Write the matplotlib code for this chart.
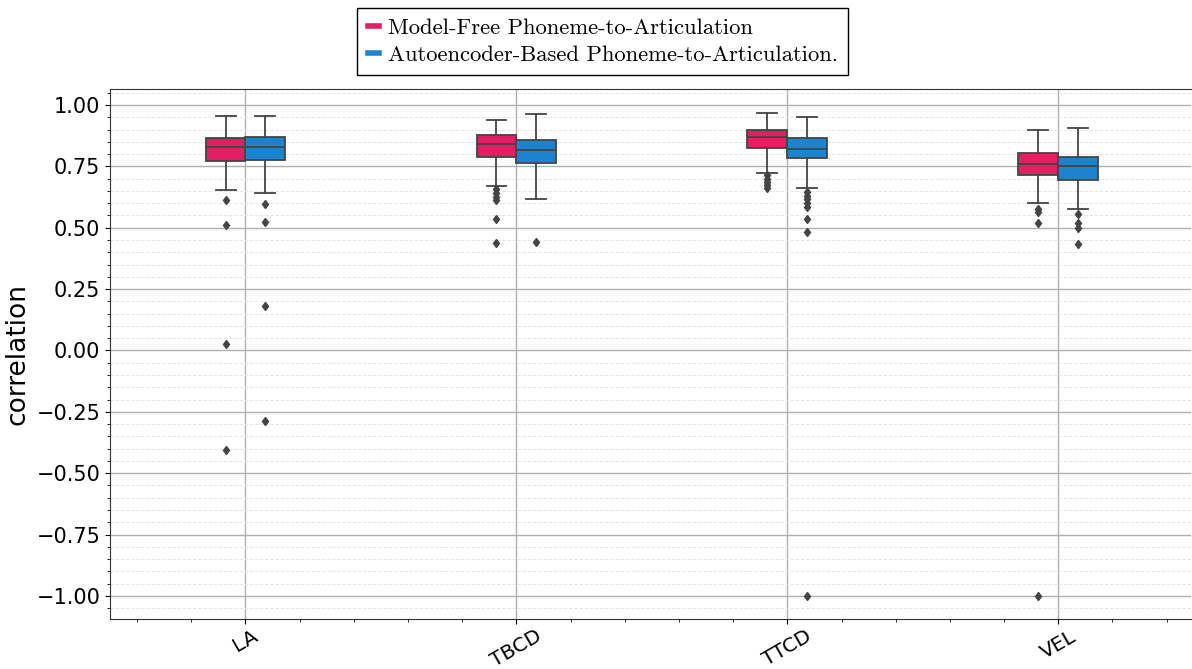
import numpy as np
import matplotlib
matplotlib.use("Agg")
import matplotlib.pyplot as plt
from matplotlib.ticker import MultipleLocator
from matplotlib.lines import Line2D

# Articulators on the x axis
CATEGORIES = ["LA", "TBCD", "TTCD", "VEL"]
SERIES = ["Model-Free Phoneme-to-Articulation",
          "Autoencoder-Based Phoneme-to-Articulation."]

# Box statistics (per category)
# Model-Free
MF_WHISHI = [0.955, 0.939, 0.967, 0.898]
MF_Q3 = [0.866, 0.878, 0.898, 0.805]
MF_MED = [0.829, 0.842, 0.870, 0.760]
MF_Q1 = [0.772, 0.788, 0.825, 0.715]
MF_WHISLO = [0.654, 0.670, 0.723, 0.601]
MF_FLIERS = [
    [0.613, 0.511, 0.026, -0.405],
    [0.657, 0.641, 0.627, 0.613, 0.536, 0.438],
    [0.715, 0.700, 0.685, 0.672, 0.662],
    [0.576, 0.564, 0.519, -1.0],
]
# Autoencoder-Based
AE_WHISHI = [0.955, 0.963, 0.951, 0.906]
AE_Q3 = [0.870, 0.857, 0.866, 0.788]
AE_MED = [0.829, 0.816, 0.821, 0.752]
AE_Q1 = [0.776, 0.764, 0.784, 0.695]
AE_WHISLO = [0.642, 0.617, 0.662, 0.576]
AE_FLIERS = [
    [0.597, 0.523, 0.181, -0.287],
    [0.442],
    [0.646, 0.630, 0.615, 0.600, 0.585, 0.536, 0.483, -1.0],
    [0.556, 0.519, 0.499, 0.434],
]

COLORS = ["#E31E62", "#1A84CE"]
EDGE = "#444444"


def make_stats(whishi, q3, med, q1, whislo, fliers):
    out = []
    for i in range(len(med)):
        out.append({"whishi": whishi[i], "q3": q3[i], "med": med[i],
                    "q1": q1[i], "whislo": whislo[i],
                    "fliers": np.array(fliers[i])})
    return out


fig = plt.figure(figsize=(11.92, 6.69), dpi=100)
ax = fig.add_axes([110 / 1192, 1 - 619 / 669, (1191 - 110) / 1192, (619 - 89) / 669])

x = np.arange(len(CATEGORIES))
width = 0.147
groups = [make_stats(MF_WHISHI, MF_Q3, MF_MED, MF_Q1, MF_WHISLO, MF_FLIERS),
          make_stats(AE_WHISHI, AE_Q3, AE_MED, AE_Q1, AE_WHISLO, AE_FLIERS)]

for k, stats in enumerate(groups):
    pos = x + (k - 0.5) * width
    ax.bxp(stats, positions=pos, widths=width, patch_artist=True,
           showfliers=True, manage_ticks=False,
           boxprops=dict(facecolor=COLORS[k], edgecolor=EDGE, linewidth=1.3),
           medianprops=dict(color=EDGE, linewidth=1.3),
           whiskerprops=dict(color=EDGE, linewidth=1.3),
           capprops=dict(color=EDGE, linewidth=1.3),
           flierprops=dict(marker="d", markerfacecolor=EDGE,
                           markeredgecolor=EDGE, markersize=4.5))

ax.set_xlim(-0.5, 3.49)
ax.set_ylim(-1.094, 1.065)
ax.set_xticks(x)
ax.set_xticklabels(CATEGORIES, rotation=30, fontsize=14.5)
ax.tick_params(axis="x", pad=2)
ax.xaxis.set_minor_locator(MultipleLocator(0.2))
ax.yaxis.set_major_locator(MultipleLocator(0.25))
ax.yaxis.set_minor_locator(MultipleLocator(0.05))
ax.tick_params(axis="y", labelsize=15)
ax.set_ylabel("correlation", fontsize=19)

ax.grid(True, which="major", color="#b0b0b0", linewidth=1.0)
ax.grid(True, which="minor", axis="y", color="#e6e6e6", linestyle="--", linewidth=0.7)
ax.set_axisbelow(True)

for side in ["left", "bottom", "top"]:
    ax.spines[side].set_color("#333333")
ax.spines["right"].set_visible(False)

handles = [Line2D([0], [0], color=c, linewidth=4) for c in COLORS]
leg = fig.legend(handles, SERIES, loc="upper left",
                 bbox_to_anchor=(346 / 1192, 1 + 3 / 669),
                 prop={"family": "cmr10", "size": 16.3},
                 handlelength=0.5, handletextpad=0.4,
                 fancybox=False, edgecolor="black", framealpha=1,
                 borderpad=0.45, labelspacing=0.3)
leg.get_frame().set_linewidth(1.0)

fig.savefig("out.png", dpi=100)
